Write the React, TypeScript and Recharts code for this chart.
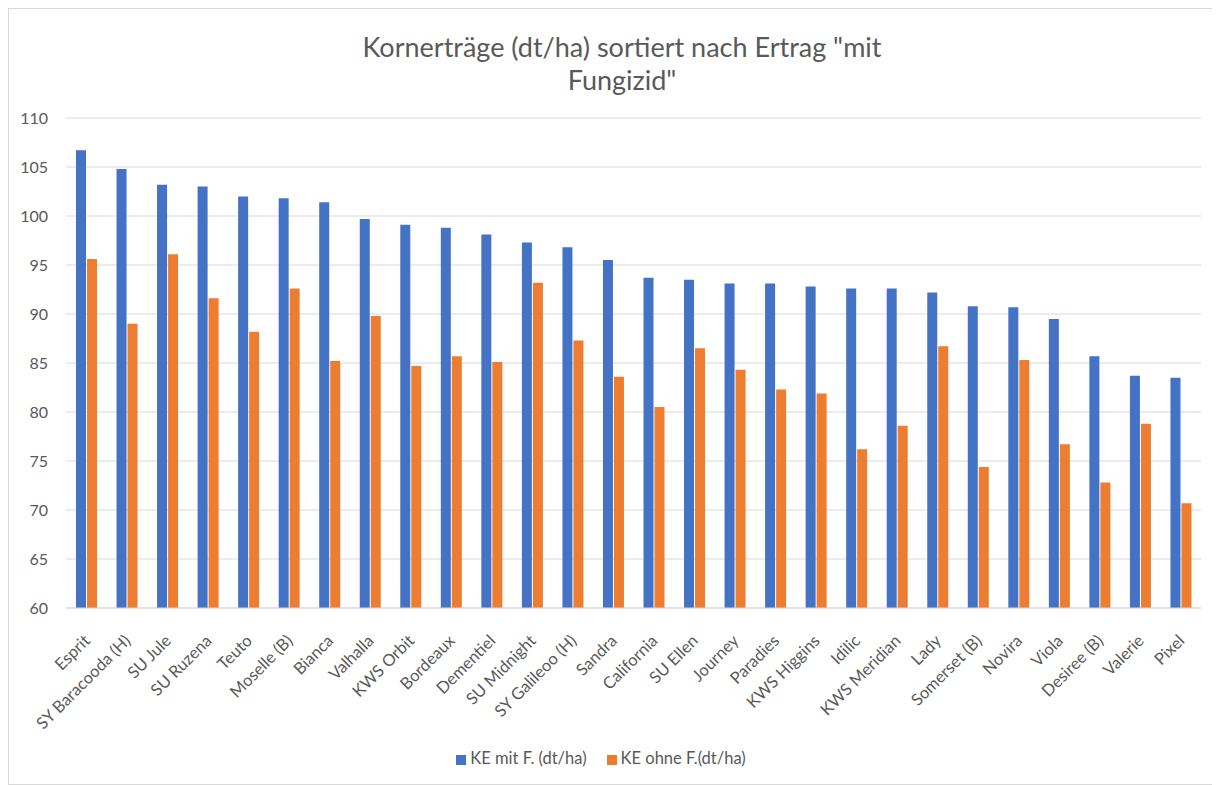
import { Bar, BarChart, CartesianGrid, Legend, XAxis, YAxis } from "recharts";

const varieties = [
  "Esprit", "SY Baracooda (H)", "SU Jule", "SU Ruzena", "Teuto", "Moselle (B)", "Bianca",
  "Valhalla", "KWS Orbit", "Bordeaux", "Dementiel", "SU Midnight", "SY Galileoo (H)", "Sandra",
  "California", "SU Ellen", "Journey", "Paradies", "KWS Higgins", "Idilic", "KWS Meridian",
  "Lady", "Somerset (B)", "Novira", "Viola", "Desiree (B)", "Valerie", "Pixel",
];

const mitFungizid = [
  106.7, 104.8, 103.2, 103.0, 102.0, 101.8, 101.4, 99.7, 99.1, 98.8, 98.1, 97.3, 96.8, 95.5,
  93.7, 93.5, 93.1, 93.1, 92.8, 92.6, 92.6, 92.2, 90.8, 90.7, 89.5, 85.7, 83.7, 83.5,
];

const ohneFungizid = [
  95.6, 89.0, 96.1, 91.6, 88.2, 92.6, 85.2, 89.8, 84.7, 85.7, 85.1, 93.2, 87.3, 83.6,
  80.5, 86.5, 84.3, 82.3, 81.9, 76.2, 78.6, 86.7, 74.4, 85.3, 76.7, 72.8, 78.8, 70.7,
];

const yTicks = [60, 65, 70, 75, 80, 85, 90, 95, 100, 105, 110];

const data = varieties.map((name, i) => ({
  name,
  mit: mitFungizid[i],
  ohne: ohneFungizid[i],
}));

const FONT = "Lato, 'Open Sans', sans-serif";
const TEXT = "#595959";

function AngledTick({ x, y, payload }: any) {
  return (
    <g transform={`translate(${x + 2},${y + 23})`}>
      <text
        textAnchor="end"
        transform="rotate(-45)"
        fill={TEXT}
        fontSize={16.5}
        fontFamily={FONT}
        dy={4}
      >
        {payload.value}
      </text>
    </g>
  );
}

export default function App() {
  return (
    <div
      style={{
        position: "relative",
        width: 1210,
        height: 775,
        border: "1px solid #d9d9d9",
        background: "#fff",
        fontFamily: FONT,
      }}
    >
      <div
        style={{
          position: "absolute",
          top: 21,
          left: 0,
          width: 1226,
          textAlign: "center",
          fontSize: 27,
          lineHeight: "33px",
          color: TEXT,
          zIndex: 1,
        }}
      >
        Kornerträge (dt/ha) sortiert nach Ertrag "mit
        <br />
        Fungizid"
      </div>
      <BarChart
        width={1208}
        height={773}
        data={data}
        margin={{ top: 109, right: 16, left: 12, bottom: 14 }}
        barSize={10}
        barGap={1}
      >
        <CartesianGrid vertical={false} stroke="#d9d9d9" />
        <XAxis
          dataKey="name"
          interval={0}
          height={140}
          tickLine={false}
          axisLine={{ stroke: "#d9d9d9" }}
          tick={<AngledTick />}
        />
        <YAxis
          domain={[60, 110]}
          ticks={yTicks}
          width={45}
          axisLine={false}
          tickLine={false}
          tickMargin={12}
          tick={{ fill: TEXT, fontSize: 16, fontFamily: FONT }}
        />
        <Legend
          verticalAlign="bottom"
          iconType="square"
          iconSize={10}
          formatter={(value) => (
            <span style={{ color: TEXT, fontSize: 16.5, fontFamily: FONT, marginRight: 10 }}>
              {value}
            </span>
          )}
        />
        <Bar dataKey="mit" name="KE mit F. (dt/ha)" fill="#4472C4" isAnimationActive={false} />
        <Bar dataKey="ohne" name="KE ohne F.(dt/ha)" fill="#ED7D31" isAnimationActive={false} />
      </BarChart>
    </div>
  );
}
